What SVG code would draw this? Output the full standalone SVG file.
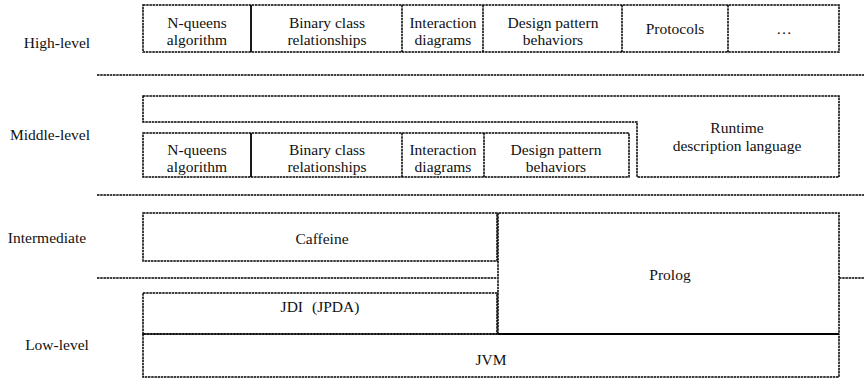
<svg xmlns="http://www.w3.org/2000/svg" width="864" height="378" viewBox="0 0 864 378">
<style>
.b{fill:none;stroke:#000;stroke-width:1.5;stroke-dasharray:2.5 0.7}
.s{fill:none;stroke:#000;stroke-width:1.8}
text{font-family:'Liberation Serif','Times New Roman','DejaVu Serif',serif;font-size:15.5px;fill:#111;text-anchor:middle}
</style>
<rect width="864" height="378" fill="#fff"/>
<g id="separators">
<line class="b" x1="97" y1="75" x2="864" y2="75"/>
<line class="b" x1="97" y1="195" x2="864" y2="195"/>
<line class="b" x1="97" y1="278" x2="497" y2="278"/>
<line class="b" x1="839" y1="278" x2="864" y2="278"/>
</g>
<g id="labels" font-family="Liberation Serif, serif">
<text x="57" y="48">High-level</text>
<text x="50" y="140">Middle-level</text>
<text x="47" y="243">Intermediate</text>
<text x="57" y="350">Low-level</text>
</g>
<g id="high-level">
<rect class="b" x="143" y="5" width="696" height="47"/>
<line class="s" x1="251" y1="5" x2="251" y2="52"/>
<line class="b" x1="402" y1="5" x2="402" y2="52"/>
<line class="b" x1="483" y1="5" x2="483" y2="52"/>
<line class="b" x1="622" y1="5" x2="622" y2="52"/>
<line class="b" x1="728" y1="5" x2="728" y2="52"/>
<text x="197" y="28">N-queens</text>
<text x="197" y="45">algorithm</text>
<text x="327" y="28">Binary class</text>
<text x="327" y="45">relationships</text>
<text x="443" y="28">Interaction</text>
<text x="443" y="45">diagrams</text>
<text x="553" y="28">Design pattern</text>
<text x="553" y="45">behaviors</text>
<text x="675" y="34">Protocols</text>
<text x="784" y="34">…</text>
</g>
<g id="runtime-description-language">
<path class="b" d="M143,96 H839 V177 H637 V122 H143 Z"/>
<text x="737" y="133">Runtime</text>
<text x="737" y="151">description language</text>
</g>
<g id="middle-level">
<rect class="b" x="143" y="133" width="486" height="44"/>
<line class="s" x1="251" y1="133" x2="251" y2="177"/>
<line class="b" x1="402" y1="133" x2="402" y2="177"/>
<line class="b" x1="484" y1="133" x2="484" y2="177"/>
<text x="197" y="155">N-queens</text>
<text x="197" y="172">algorithm</text>
<text x="327" y="155">Binary class</text>
<text x="327" y="172">relationships</text>
<text x="443" y="155">Interaction</text>
<text x="443" y="172">diagrams</text>
<text x="556" y="155">Design pattern</text>
<text x="556" y="172">behaviors</text>
</g>
<g id="caffeine">
<rect class="b" x="143" y="213" width="354" height="48"/>
<text x="322" y="244">Caffeine</text>
</g>
<g id="prolog">
<path class="b" d="M498,334 V213 H839 V334"/>
<line class="s" x1="498" y1="334" x2="839" y2="334"/>
<text x="670" y="280">Prolog</text>
</g>
<g id="jdi">
<rect class="b" x="143" y="293" width="354" height="41"/>
<text x="320" y="312">JDI<tspan dx="9">(JPDA)</tspan></text>
</g>
<g id="jvm">
<path class="b" d="M143,334 V377 H839 V334 M143,334 H498"/>
<text x="491" y="365">JVM</text>
</g>
</svg>
